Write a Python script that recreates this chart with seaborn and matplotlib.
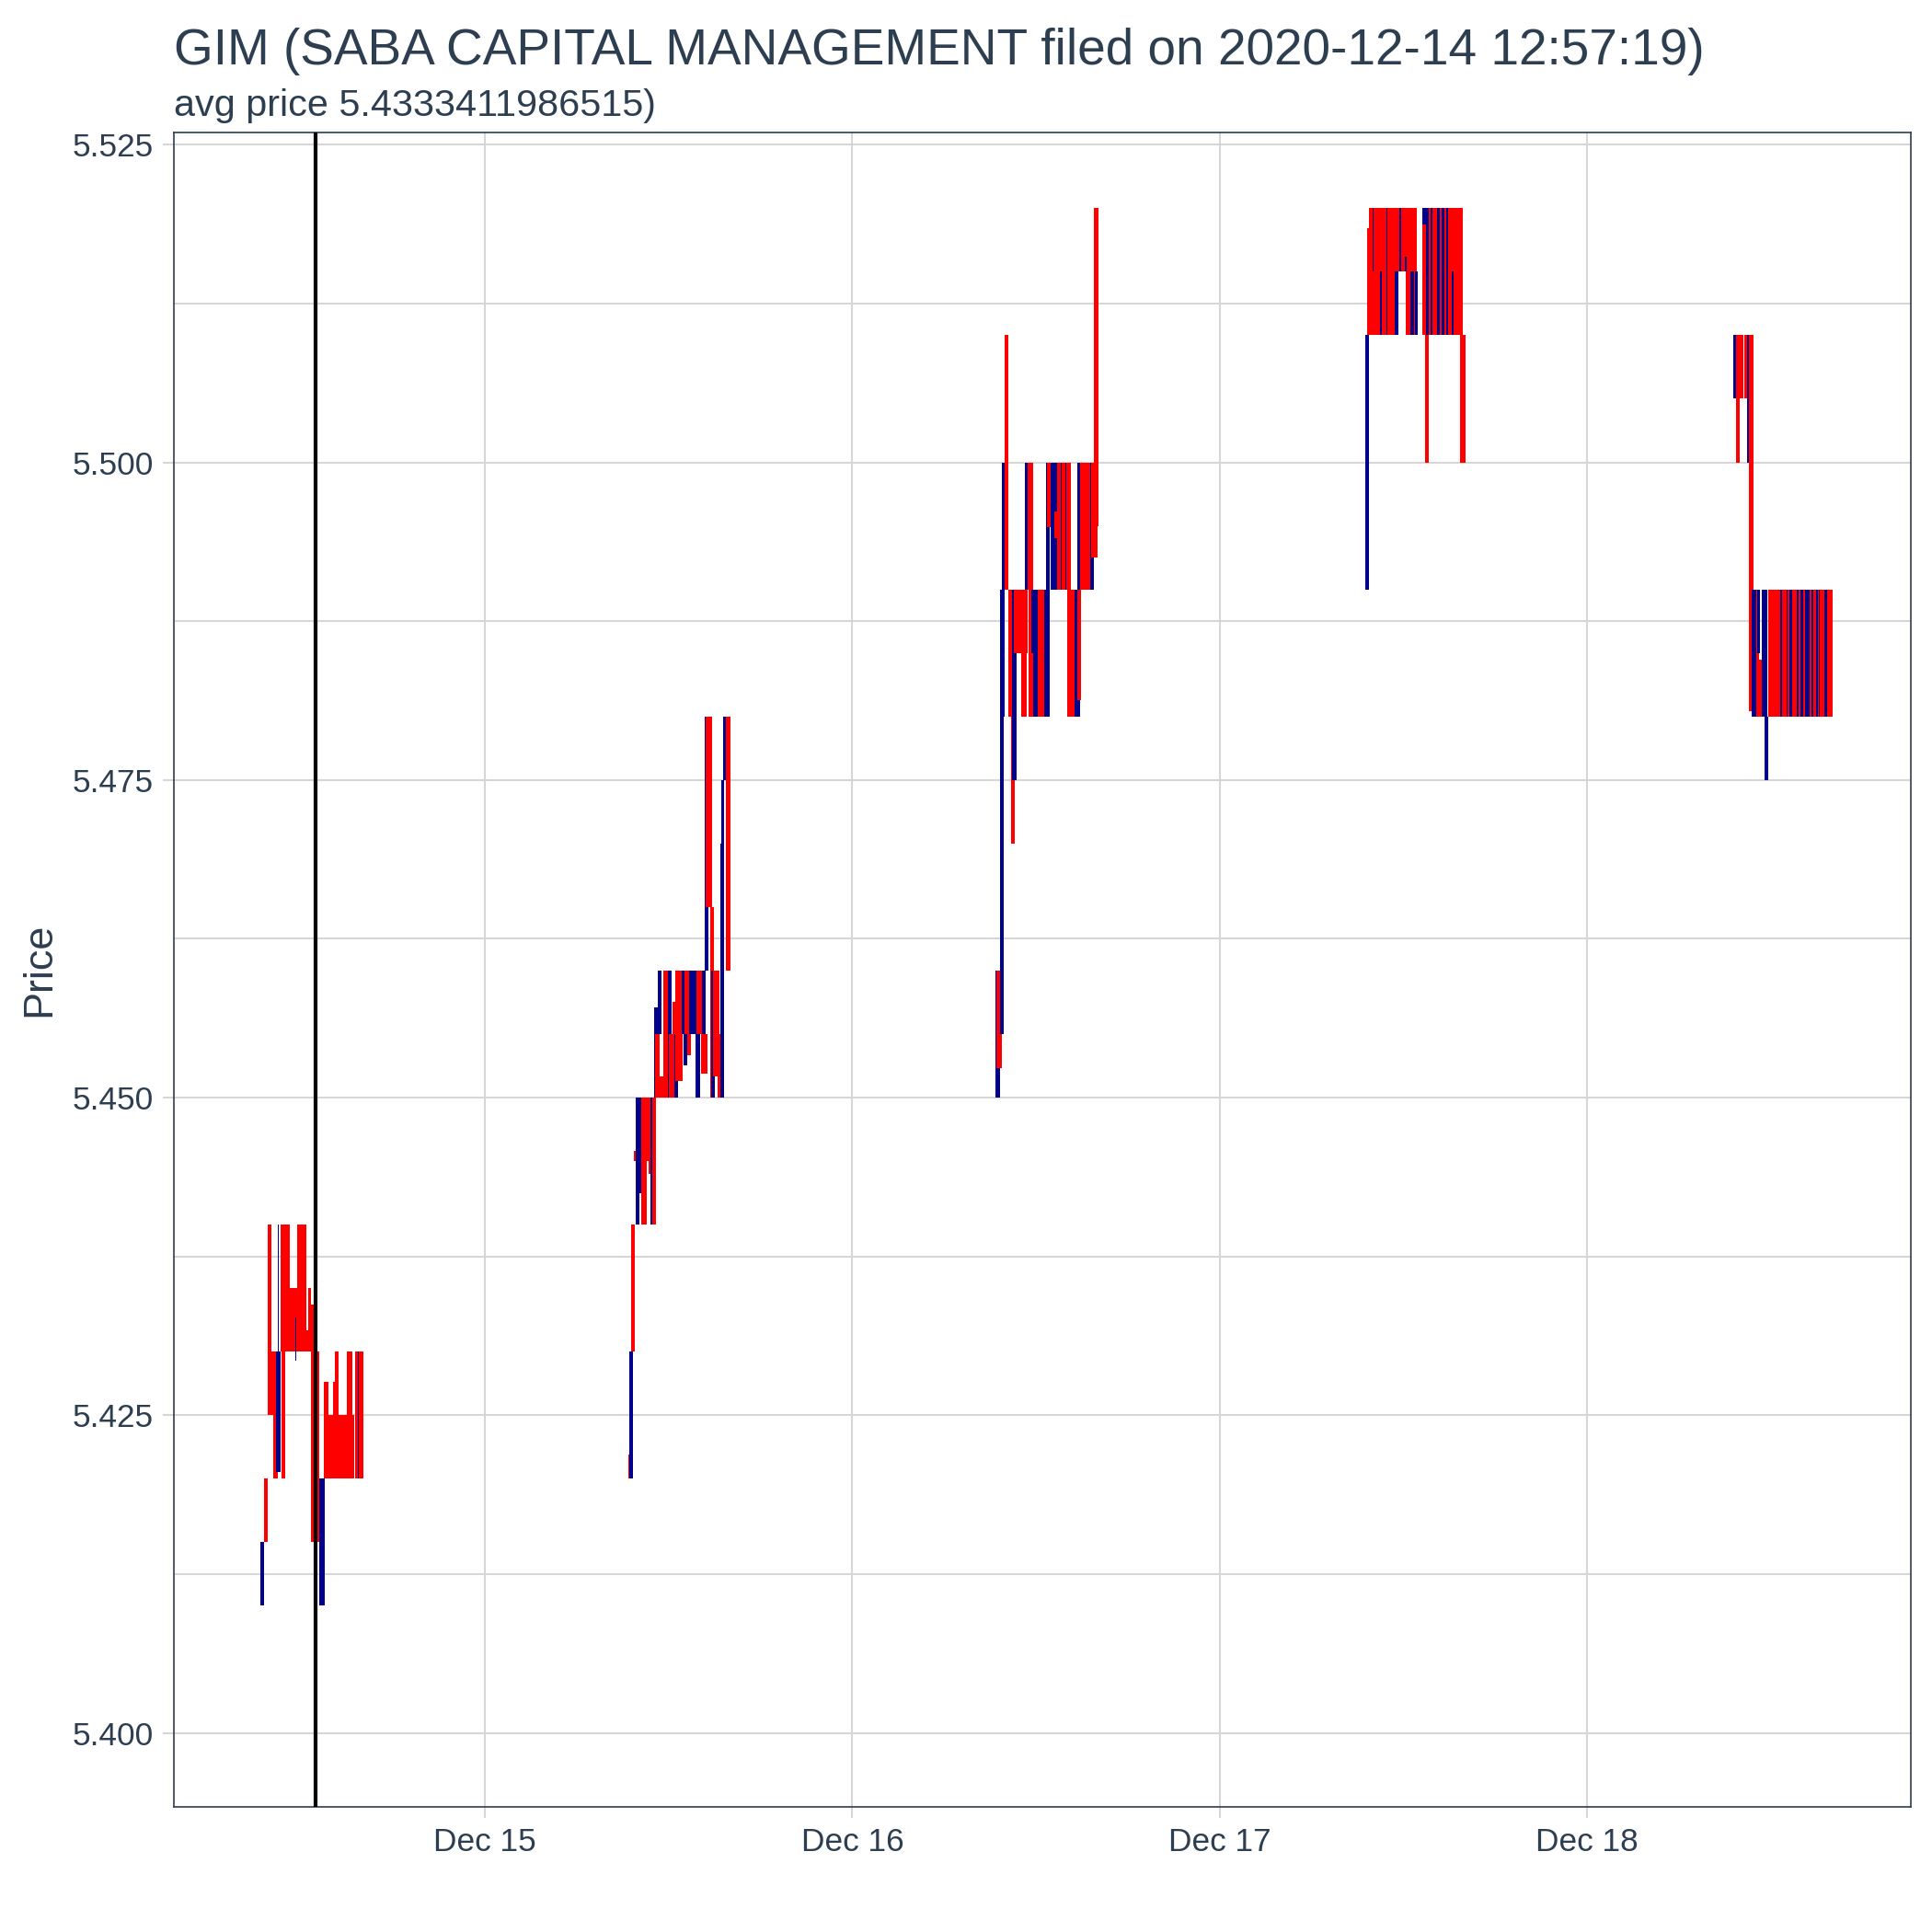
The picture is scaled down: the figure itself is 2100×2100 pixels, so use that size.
import datetime
import matplotlib
matplotlib.use("Agg")
import matplotlib.pyplot as plt
import matplotlib.dates as mdates
from matplotlib.ticker import MultipleLocator, FixedLocator, FuncFormatter
import numpy as np
import pandas as pd
import seaborn as sns

# ---------------- data (hours of the trading day, prices, direction) ----------------
title_text = "GIM (SABA CAPITAL MANAGEMENT filed on 2020-12-14 12:57:19)"
subtitle_text = "avg price 5.4333411986515)"
filing_time = datetime.datetime(2020, 12, 14, 12, 57, 19)
tick_days = ["2020-12-15", "2020-12-16", "2020-12-17", "2020-12-18"]

# Dec 14
d14_start = [9.35, 9.55, 9.79, 10.05, 10.19, 10.35, 10.45, 10.66, 10.72, 11.26, 11.62, 11.72, 12.32, 12.46, 12.66,
             13.00, 13.16, 13.46, 13.76, 14.06, 14.20, 14.46, 14.96, 15.32, 15.52, 15.70]
d14_end = [9.59, 9.82, 10.05, 10.19, 10.45, 10.66, 10.53, 11.26, 10.96, 11.72, 11.70, 12.32, 12.46, 12.66, 12.80,
           13.16, 13.52, 13.76, 14.06, 14.20, 14.46, 14.96, 15.32, 15.46, 16.06, 15.76]
d14_low = [5.410, 5.415, 5.425, 5.425, 5.420, 5.4205, 5.425, 5.430, 5.420, 5.430, 5.4293, 5.430, 5.430, 5.430, 5.415,
           5.415, 5.410, 5.420, 5.420, 5.420, 5.420, 5.420, 5.420, 5.420, 5.420, 5.420]
d14_high = [5.415, 5.420, 5.440, 5.430, 5.430, 5.430, 5.440, 5.440, 5.430, 5.435, 5.4327, 5.440, 5.4317, 5.435, 5.4337,
            5.430, 5.420, 5.4276, 5.425, 5.4276, 5.430, 5.425, 5.430, 5.425, 5.430, 5.430]
d14_up = [1, 0, 0, 0, 0, 1, 1, 0, 0, 0, 1, 0, 0, 0, 0, 0, 1, 0, 0, 0, 0, 0, 0, 0, 0, 1]

# Dec 15
d15_start = [9.35, 9.43, 9.53, 9.75, 9.87, 10.09, 10.23, 10.55, 10.69, 10.84, 10.96, 11.04, 11.12, 11.30, 11.40,
             11.66, 11.96, 12.04, 12.28, 12.40, 12.44, 12.84, 13.04, 13.00, 13.20, 13.36, 13.76, 13.84, 14.12,
             14.20, 14.36, 14.44, 14.70, 14.76, 14.90, 15.20, 15.36, 15.46, 15.56, 15.76]
d15_end = [9.43, 9.69, 9.79, 9.87, 10.09, 10.23, 10.55, 10.69, 10.84, 10.96, 11.20, 11.30, 11.40, 11.56, 11.64,
           11.96, 12.20, 12.40, 12.56, 12.64, 12.90, 13.04, 13.36, 13.20, 13.44, 13.84, 14.04, 14.20, 14.52,
           14.44, 14.60, 14.86, 14.96, 15.04, 15.30, 15.40, 15.64, 15.60, 15.80, 16.04]
d15_low = [5.420, 5.420, 5.430, 5.445, 5.440, 5.4425, 5.440, 5.445, 5.444, 5.440, 5.440, 5.450, 5.450, 5.455, 5.450,
           5.450, 5.450, 5.450, 5.455, 5.450, 5.4513, 5.455, 5.455, 5.4525, 5.4533, 5.455, 5.450, 5.455, 5.4519,
           5.455, 5.460, 5.465, 5.450, 5.450, 5.4517, 5.450, 5.450, 5.460, 5.475, 5.460]
d15_high = [5.4219, 5.430, 5.440, 5.4458, 5.450, 5.450, 5.450, 5.450, 5.450, 5.450, 5.450, 5.4571, 5.455, 5.460, 5.4517,
            5.460, 5.460, 5.455, 5.4575, 5.455, 5.460, 5.460, 5.460, 5.455, 5.455, 5.460, 5.455, 5.460, 5.455,
            5.460, 5.480, 5.480, 5.465, 5.460, 5.460, 5.455, 5.470, 5.475, 5.480, 5.480]
d15_up = [0, 1, 0, 0, 1, 1, 0, 0, 0, 1, 0, 1, 0, 1, 0, 0, 1, 0, 0, 1, 0, 1, 0, 1, 0, 1, 1, 0, 0,
          1, 1, 0, 0, 1, 0, 0, 1, 1, 1, 0]

# Dec 16
d16_start = [9.37, 9.43, 9.63, 9.67, 9.79, 9.95, 10.19, 10.35, 10.43, 10.53, 10.87, 11.03, 11.27, 11.43, 11.53,
             11.67, 11.83, 12.13, 12.54, 12.64, 12.70, 12.94, 13.20, 13.38, 13.60, 13.90, 14.04, 14.54, 14.70,
             14.72, 14.88, 15.54, 15.58, 15.78]
d16_end = [9.63, 9.79, 9.87, 9.93, 9.95, 10.19, 10.43, 10.63, 10.71, 10.87, 11.47, 11.39, 11.47, 11.79, 11.83,
           12.19, 12.13, 12.54, 12.88, 12.88, 12.94, 13.40, 13.44, 14.28, 13.68, 13.98, 14.54, 14.88, 14.96,
           15.00, 15.54, 15.80, 16.00, 16.08]
d16_low = [5.450, 5.4523, 5.455, 5.480, 5.490, 5.490, 5.480, 5.470, 5.475, 5.485, 5.485, 5.480, 5.490, 5.490, 5.480,
           5.485, 5.480, 5.480, 5.480, 5.490, 5.4949, 5.490, 5.494, 5.490, 5.490, 5.490, 5.480, 5.480, 5.4813,
           5.490, 5.490, 5.490, 5.4925, 5.495]
d16_high = [5.460, 5.460, 5.480, 5.490, 5.500, 5.510, 5.490, 5.490, 5.490, 5.490, 5.490, 5.485, 5.500, 5.500, 5.490,
            5.490, 5.485, 5.490, 5.490, 5.500, 5.500, 5.500, 5.4961, 5.500, 5.500, 5.500, 5.490, 5.490, 5.490,
            5.500, 5.500, 5.500, 5.500, 5.520]
d16_up = [1, 0, 1, 1, 1, 0, 0, 0, 1, 0, 0, 0, 1, 0, 0, 1, 1, 0, 1, 1, 0, 1, 0, 0, 1, 1, 0, 1, 0,
          1, 0, 1, 0, 0]

# Dec 17
d17_start = [9.51, 9.61, 9.77, 9.99, 10.07, 10.47, 10.87, 10.97, 11.43, 11.67, 11.77, 12.11, 12.17, 12.48, 12.78,
             13.24, 13.24, 13.48, 13.78, 14.18, 14.48, 14.78, 15.18, 13.44, 15.68]
d17_end = [9.77, 9.83, 10.07, 10.11, 10.97, 10.57, 11.03, 11.67, 11.67, 12.88, 11.87, 12.23, 12.92, 12.68, 12.92,
           15.88, 13.58, 13.68, 13.92, 14.38, 14.68, 14.92, 15.28, 13.68, 16.04]
d17_low = [5.490, 5.510, 5.510, 5.515, 5.510, 5.510, 5.510, 5.510, 5.510, 5.515, 5.515, 5.515, 5.510, 5.510, 5.510,
           5.510, 5.5187, 5.510, 5.510, 5.510, 5.510, 5.510, 5.510, 5.500, 5.500]
d17_high = [5.510, 5.5184, 5.520, 5.520, 5.520, 5.515, 5.520, 5.520, 5.515, 5.520, 5.520, 5.5162, 5.515, 5.515, 5.515,
            5.520, 5.520, 5.520, 5.520, 5.520, 5.520, 5.520, 5.515, 5.510, 5.510]
d17_up = [1, 0, 0, 1, 0, 1, 1, 0, 1, 0, 1, 1, 0, 1, 1, 0, 1, 1, 1, 1, 1, 1, 1, 0, 0]

# Dec 18
d18_start = [9.55, 9.71, 9.95, 10.27, 10.47, 10.57, 10.77, 11.07, 11.15, 11.27, 11.41, 11.61, 11.87,
             12.62, 13.02, 13.22, 13.72, 13.96, 14.22, 14.66, 14.96, 15.12, 15.52]
d18_end = [9.71, 9.95, 10.21, 10.47, 10.61, 10.87, 11.11, 11.27, 11.31, 11.51, 11.81, 11.87, 16.02,
           12.72, 13.12, 13.42, 13.84, 14.12, 14.52, 14.76, 15.08, 15.22, 15.68]
d18_low = [5.505, 5.500, 5.505, 5.505, 5.500, 5.4804, 5.480, 5.480, 5.485, 5.480, 5.480, 5.475, 5.480,
           5.480, 5.480, 5.480, 5.480, 5.480, 5.480, 5.480, 5.480, 5.480, 5.480]
d18_high = [5.510, 5.510, 5.510, 5.510, 5.510, 5.510, 5.490, 5.490, 5.490, 5.4845, 5.490, 5.480, 5.490,
            5.490, 5.490, 5.490, 5.490, 5.490, 5.490, 5.490, 5.490, 5.490, 5.490]
d18_up = [1, 0, 0, 0, 1, 0, 1, 0, 1, 0, 1, 1, 0, 1, 1, 1, 1, 1, 1, 1, 1, 1, 1]

# ---------------- build table ----------------
days = [
    ("2020-12-14", d14_start, d14_end, d14_low, d14_high, d14_up),
    ("2020-12-15", d15_start, d15_end, d15_low, d15_high, d15_up),
    ("2020-12-16", d16_start, d16_end, d16_low, d16_high, d16_up),
    ("2020-12-17", d17_start, d17_end, d17_low, d17_high, d17_up),
    ("2020-12-18", d18_start, d18_end, d18_low, d18_high, d18_up),
]
frames = []
for day, s, e, lo, hi, up in days:
    base = pd.Timestamp(day)
    frames.append(pd.DataFrame({
        "t0": [base + pd.Timedelta(hours=v) for v in s],
        "t1": [base + pd.Timedelta(hours=v) for v in e],
        "low": lo, "high": hi, "up": up}))
df = pd.concat(frames, ignore_index=True)
df["x0"] = mdates.date2num(df["t0"])
df["w"] = mdates.date2num(df["t1"]) - df["x0"]

# ---------------- style ----------------
sns.set_theme(style="white")
plt.rcParams["font.family"] = ["Liberation Sans", "DejaVu Sans"]
text_col = "#2C3E50"
grid_col = "#D6D6D6"
up_col = "#00008B"
down_col = "#FF0000"

fig = plt.figure(figsize=(10.5, 10.5), dpi=200)
ax = fig.add_axes([189.3 / 2100, 1 - 1964.3 / 2100, (2076.7 - 189.3) / 2100, (1964.3 - 144) / 2100])

colors = [up_col if u else down_col for u in df["up"]]
ax.bar(df["x0"], df["high"] - df["low"], width=df["w"], bottom=df["low"], align="edge",
       color=colors, linewidth=0, zorder=2)

ax.axvline(mdates.date2num(filing_time), color="black", lw=1.5, zorder=3)

# axes limits
ax.set_xlim(mdates.date2num(pd.Timestamp("2020-12-14") + pd.Timedelta(hours=3.70)),
            mdates.date2num(pd.Timestamp("2020-12-18") + pd.Timedelta(hours=21.14)))
ax.set_ylim(5.39415, 5.52596)

ax.xaxis.set_major_locator(FixedLocator(mdates.date2num(pd.to_datetime(tick_days))))
ax.xaxis.set_major_formatter(mdates.DateFormatter("%b %d"))
ax.yaxis.set_major_locator(MultipleLocator(0.025))
ax.yaxis.set_major_formatter(FuncFormatter(lambda v, p: f"{v:.3f}"))
ax.yaxis.set_minor_locator(MultipleLocator(0.0125))

ax.set_axisbelow(True)
ax.grid(which="major", color=grid_col, lw=0.75)
ax.grid(which="minor", axis="y", color=grid_col, lw=0.75)
ax.tick_params(axis="both", which="major", bottom=True, left=True, length=4.2, width=0.75,
               color=grid_col, labelcolor=text_col, labelsize=12.7)
ax.tick_params(axis="x", pad=3.5)
ax.tick_params(axis="y", pad=4)
ax.tick_params(which="minor", length=0)
for sp in ax.spines.values():
    sp.set_visible(True)
    sp.set_color(text_col)
    sp.set_linewidth(0.6)
ax.set_xlabel("")
ax.set_ylabel("")

fig.text(189.3 / 2100, 1 - 70 / 2100, title_text, fontsize=19.8, color=text_col, ha="left", va="baseline")
fig.text(189.3 / 2100, 1 - 126 / 2100, subtitle_text, fontsize=14.9, color=text_col, ha="left", va="baseline")
fig.text(43 / 2100, 1 - 1054 / 2100, "Price", rotation=90, fontsize=16.2, color=text_col, ha="center", va="center")

fig.savefig("out.png", dpi=200, facecolor="white")
